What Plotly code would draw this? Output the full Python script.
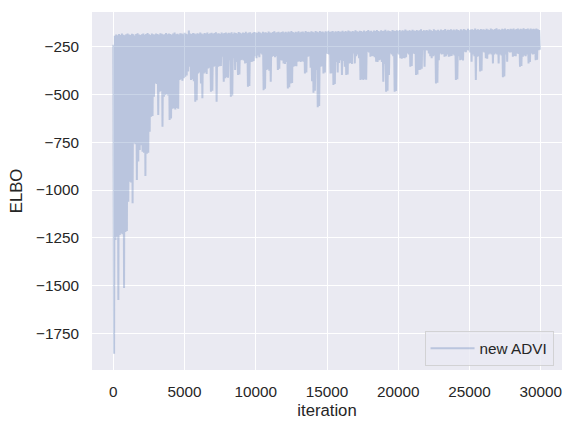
import plotly.graph_objects as go

# ---- data ----
# one upper and one lower sample per 100-iteration block
block_start = list(range(0, 30000, 100))
lower_offset = 50

elbo_upper = [
    -240, -192, -186, -190, -183, -188, -181, -187, -190, -184, -180, -186, -189, -182, -185, -191, -183, -179, -186, -188,
    -184, -180, -187, -183, -178, -185, -189, -181, -184, -186, -180, -183, -187, -179, -182, -186, -184, -178, -185, -181,
    -183, -187, -180, -176, -184, -182, -186, -179, -181, -185, -177, -182, -184, -165, -180, -183, -178, -181, -185, -179,
    -182, -176, -180, -184, -178, -181, -175, -183, -179, -177, -182, -178, -174, -181, -179, -183, -176, -180, -178, -175,
    -181, -177, -179, -174, -182, -176, -178, -180, -173, -177, -181, -175, -178, -172, -179, -176, -174, -180, -177, -173,
    -176, -178, -172, -175, -179, -171, -176, -174, -178, -170, -175, -177, -173, -169, -176, -174, -171, -177, -173, -170,
    -175, -172, -176, -170, -174, -168, -173, -177, -171, -174, -169, -175, -172, -170, -176, -168, -173, -171, -174, -169,
    -172, -175, -168, -171, -174, -167, -172, -170, -175, -169, -171, -166, -173, -170, -168, -174, -169, -171, -167, -172,
    -170, -166, -173, -168, -171, -165, -169, -172, -167, -170, -164, -169, -171, -166, -168, -172, -165, -170, -167, -163,
    -169, -166, -171, -165, -168, -162, -167, -170, -164, -168, -166, -161, -169, -165, -167, -170, -163, -166, -168, -164,
    -167, -162, -169, -164, -166, -160, -165, -168, -163, -167, -161, -165, -168, -162, -166, -164, -159, -167, -163, -165,
    -162, -166, -160, -164, -167, -158, -163, -165, -161, -166, -160, -164, -162, -157, -165, -161, -163, -159, -164, -160,
    -163, -158, -162, -165, -159, -163, -157, -161, -164, -156, -162, -160, -158, -163, -155, -161, -159, -162, -157, -160,
    -158, -162, -156, -160, -163, -155, -159, -161, -157, -153, -160, -158, -162, -156, -159, -154, -161, -157, -160, -156,
    -159, -155, -161, -157, -154, -160, -156, -158, -153, -159, -157, -155, -160, -154, -158, -156, -159, -155, -158, -162,
]

elbo_lower = [
    -1857, -1262, -1245, -1576, -1235, -1228, -1232, -1513, -1220, -1215,
    -1061, -957, -960, -1069, -755, -760, -948, -850, -790, -765,
    -800, -805, -927, -810, -805, -695, -616, -612, -512, -442,
    -445, -607, -485, -482, -669, -512, -503, -498, -505, -633,
    -625, -575, -572, -578, -570, -575, -424, -420, -428, -415,
    -407, -400, -380, -355, -424, -420, -430, -538, -530, -390,
    -385, -442, -520, -390, -385, -392, -363, -360, -486, -480,
    -355, -350, -538, -355, -352, -350, -302, -433, -415, -410,
    -412, -320, -512, -505, -310, -372, -330, -398, -395, -320,
    -318, -322, -337, -335, -459, -455, -330, -328, -325, -300,
    -310, -295, -305, -285, -290, -477, -470, -372, -368, -375,
    -433, -302, -298, -305, -300, -372, -365, -320, -322, -337,
    -340, -330, -468, -462, -442, -440, -355, -350, -352, -328,
    -325, -330, -326, -328, -390, -385, -302, -300, -360, -430,
    -490, -480, -372, -567, -560, -355, -352, -390, -385, -285,
    -288, -290, -390, -388, -450, -445, -330, -385, -335, -320,
    -398, -325, -355, -398, -395, -337, -335, -340, -285, -337,
    -300, -290, -310, -424, -420, -424, -420, -422, -276, -280,
    -302, -298, -300, -305, -328, -330, -320, -318, -330, -433,
    -340, -486, -480, -398, -285, -290, -300, -486, -482, -285,
    -290, -310, -312, -308, -310, -305, -285, -290, -355, -350,
    -285, -288, -398, -395, -372, -370, -365, -268, -355, -268,
    -270, -285, -300, -310, -300, -295, -442, -438, -320, -285,
    -290, -288, -302, -300, -290, -302, -300, -298, -290, -295,
    -424, -420, -300, -320, -318, -322, -276, -278, -268, -270,
    -280, -328, -290, -300, -424, -302, -300, -380, -375, -276,
    -280, -310, -312, -290, -285, -290, -337, -290, -285, -290,
    -337, -290, -295, -410, -405, -290, -328, -276, -280, -278,
    -302, -298, -300, -285, -288, -355, -350, -302, -295, -300,
    -290, -337, -330, -285, -290, -288, -320, -318, -268, -266,
]

x_tick_vals = [0, 5000, 10000, 15000, 20000, 25000, 30000]
x_tick_labels = ["0", "5000", "10000", "15000", "20000", "25000", "30000"]
y_tick_vals = [-1750, -1500, -1250, -1000, -750, -500, -250]
y_tick_labels = ["\u22121750", "\u22121500", "\u22121250", "\u22121000", "\u2212750", "\u2212500", "\u2212250"]

# ---- build the trace (interleave upper / lower samples) ----
iters, elbo = [], []
for s, hi, lo in zip(block_start, elbo_upper, elbo_lower):
    iters.append(s)
    elbo.append(hi)
    iters.append(s + lower_offset)
    elbo.append(lo)

FONT = "Liberation Sans, Arial, sans-serif"
TXT = "#262626"

fig = go.Figure()
fig.add_trace(go.Scatter(
    x=iters, y=elbo, mode="lines", name="new ADVI",
    line=dict(color="rgba(76,114,176,0.3)", width=2.0),
))

fig.update_layout(
    width=576, height=432,
    margin=dict(l=92, r=14, t=12, b=62),
    paper_bgcolor="white",
    plot_bgcolor="#EAEAF2",
    font=dict(family=FONT, size=15.3, color=TXT),
    showlegend=True,
    legend=dict(
        x=0.982, y=0.012, xanchor="right", yanchor="bottom",
        bgcolor="rgba(234,234,242,0.8)",
        bordercolor="rgba(204,204,204,0.8)", borderwidth=1,
        font=dict(family=FONT, size=15.3, color=TXT),
        itemwidth=44,
    ),
)

fig.update_xaxes(
    range=[-1500, 31499],
    tickmode="array", tickvals=x_tick_vals, ticktext=x_tick_labels,
    showgrid=True, gridcolor="white", gridwidth=1.4,
    zeroline=False, showline=False,
    ticks="outside", ticklen=8, tickcolor="rgba(0,0,0,0)",
    tickfont=dict(family=FONT, size=15.3, color=TXT),
    title=dict(text="iteration", font=dict(family=FONT, size=16.7, color=TXT), standoff=4),
)
fig.update_yaxes(
    range=[-1942, -68],
    tickmode="array", tickvals=y_tick_vals, ticktext=y_tick_labels,
    showgrid=True, gridcolor="white", gridwidth=1.4,
    zeroline=False, showline=False,
    ticks="outside", ticklen=9, tickcolor="rgba(0,0,0,0)",
    tickfont=dict(family=FONT, size=15.3, color=TXT),
    title=dict(text="ELBO", font=dict(family=FONT, size=16.7, color=TXT), standoff=9),
)

fig.write_html("out.html")
